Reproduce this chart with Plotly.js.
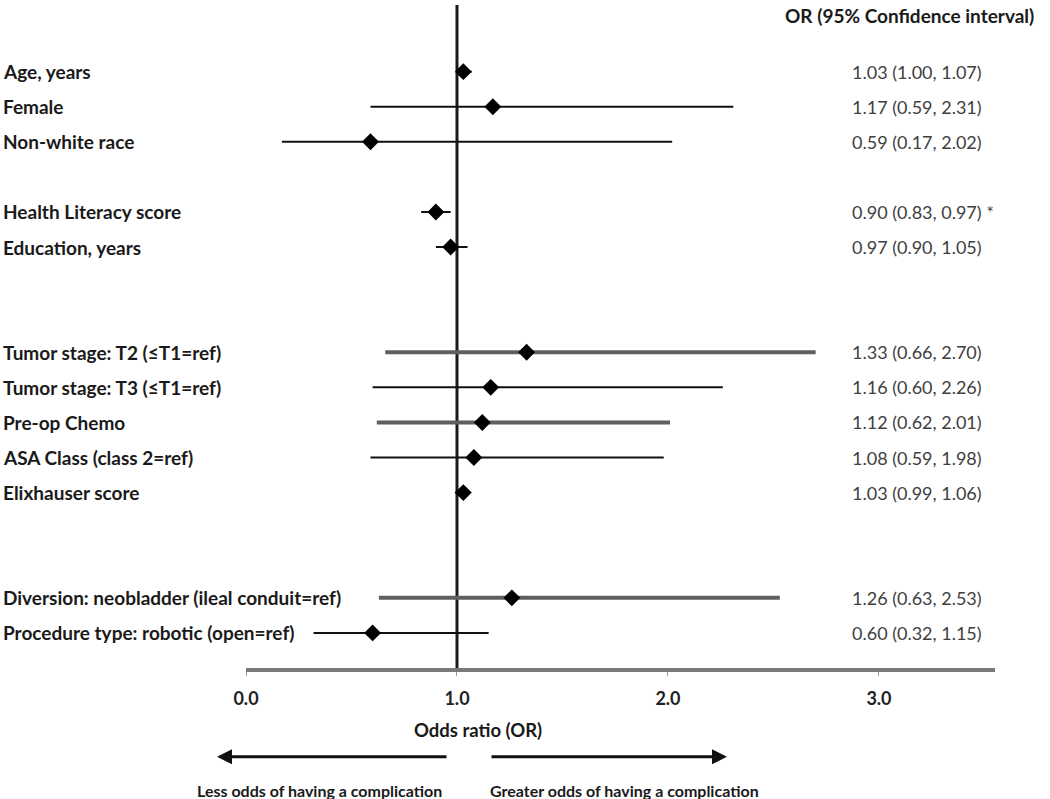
<!DOCTYPE html>
<html>
<head>
<meta charset="utf-8">
<script src="https://cdn.plot.ly/plotly-3.0.1.min.js"></script>
<style>html,body{margin:0;padding:0;background:#fff;}#chart{width:1050px;height:799px;}</style>
</head>
<body>
<div id="chart"></div>
<script>
// ---- data ----
const labels = ['Age, years','Female','Non-white race','Health Literacy score','Education, years',
  'Tumor stage: T2 (\u2264T1=ref)','Tumor stage: T3 (\u2264T1=ref)','Pre-op Chemo','ASA Class (class 2=ref)',
  'Elixhauser score','Diversion: neobladder (ileal conduit=ref)','Procedure type: robotic (open=ref)'];
const oddsRatio = [1.03, 1.17, 0.59, 0.90, 0.97, 1.33, 1.16, 1.12, 1.08, 1.03, 1.26, 0.60];
const ciLow     = [1.00, 0.59, 0.17, 0.83, 0.90, 0.66, 0.60, 0.62, 0.59, 0.99, 0.63, 0.32];
const ciHigh    = [1.07, 2.31, 2.02, 0.97, 1.05, 2.70, 2.26, 2.01, 1.98, 1.06, 2.53, 1.15];
const notes     = ['', '', '', ' *', '', '', '', '', '', '', '', ''];
const tickVals  = [0, 1, 2, 3];
const tickText  = ['0.0', '1.0', '2.0', '3.0'];

// ---- layout helpers (grouping of rows) ----
const groupSizes = [3, 2, 5, 2];
const blanksBefore = [0, 1, 2, 2];
const rowPos = [];
{ let p = 0, i = 0;
  groupSizes.forEach((n, g) => { p += blanksBefore[g]; for (let k = 0; k < n; k++) { rowPos[i++] = p++; } });
}
const thickRows = new Set(['Tumor stage: T2 (\u2264T1=ref)', 'Pre-op Chemo', 'Diversion: neobladder (ileal conduit=ref)']);

const FONT = 'Lato, "Open Sans", sans-serif';

function makeTrace(sel, color, thick) {
  const idx = labels.map((l, i) => i).filter(sel);
  return {
    type: 'scatter', mode: 'markers', hoverinfo: 'skip', showlegend: false,
    x: idx.map(i => oddsRatio[i]), y: idx.map(i => rowPos[i]),
    marker: {symbol: 'diamond', size: 13, color: '#000'},
    error_x: {type: 'data', symmetric: false,
      array: idx.map(i => ciHigh[i] - oddsRatio[i]),
      arrayminus: idx.map(i => oddsRatio[i] - ciLow[i]),
      width: 0, thickness: thick, color: color},
    cliponaxis: false
  };
}
const traces = [
  makeTrace(i => !thickRows.has(labels[i]), '#111', 2),
  makeTrace(i => thickRows.has(labels[i]), '#5f5f5f', 4)
];

const annotations = [];
labels.forEach((l, i) => {
  annotations.push({xref: 'paper', yref: 'y', x: -0.327, y: rowPos[i], xanchor: 'left', yanchor: 'middle',
    text: l, showarrow: false, font: {family: FONT, size: 19, color: '#1a1a1a', weight: 'bold'}});
  annotations.push({xref: 'x', yref: 'y', x: 2.863, y: rowPos[i], xanchor: 'left', yanchor: 'middle',
    text: oddsRatio[i].toFixed(2) + ' (' + ciLow[i].toFixed(2) + ', ' + ciHigh[i].toFixed(2) + ')' + notes[i],
    showarrow: false, font: {family: FONT, size: 18, color: '#404040'}});
});
annotations.push({xref: 'x', yref: 'paper', x: 2.545, y: 0.984, xanchor: 'left', yanchor: 'middle',
  text: 'OR (95% Confidence interval)', showarrow: false, font: {family: FONT, size: 19, color: '#1a1a1a', weight: 'bold'}});
annotations.push({xref: 'paper', yref: 'paper', x: (478 - 246) / 749, y: -0.0935, xanchor: 'center', yanchor: 'middle',
  text: 'Odds ratio (OR)', showarrow: false, font: {family: FONT, size: 18.5, color: '#1a1a1a', weight: 'bold'}});
annotations.push({xref: 'paper', yref: 'paper', x: (319 - 246) / 749, y: -0.1855, xanchor: 'center', yanchor: 'middle',
  text: 'Less odds of having a complication', showarrow: false, font: {family: FONT, size: 16, color: '#1a1a1a', weight: 'bold'}});
annotations.push({xref: 'paper', yref: 'paper', x: (624 - 246) / 749, y: -0.1855, xanchor: 'center', yanchor: 'middle',
  text: 'Greater odds of having a complication', showarrow: false, font: {family: FONT, size: 16, color: '#1a1a1a', weight: 'bold'}});
// arrows
annotations.push({xref: 'paper', yref: 'paper', x: (217 - 246) / 749, y: -0.134, ax: 231, ay: 0, text: '',
  showarrow: true, arrowhead: 2, arrowsize: 1, arrowwidth: 3, arrowcolor: '#111'});
annotations.push({xref: 'paper', yref: 'paper', x: (727 - 246) / 749, y: -0.134, ax: -237, ay: 0, text: '',
  showarrow: true, arrowhead: 2, arrowsize: 1, arrowwidth: 3, arrowcolor: '#111'});

const layout = {
  width: 1050, height: 799,
  margin: {l: 246, r: 55, t: 5, b: 131},
  paper_bgcolor: '#fff', plot_bgcolor: '#fff',
  xaxis: {range: [0, 3.55], tickvals: tickVals, ticktext: tickText, showgrid: false, zeroline: false,
    showline: true, linecolor: '#7a7a7a', linewidth: 4, ticks: 'outside', ticklen: 4, tickcolor: '#999', tickwidth: 1,
    ticklabelstandoff: 7,
    tickfont: {family: FONT, size: 18, color: '#222', weight: 'bold'}, fixedrange: true},
  yaxis: {range: [17, -1.9], showgrid: false, zeroline: false, showline: false, showticklabels: false, ticks: '', fixedrange: true},
  shapes: [{type: 'line', xref: 'x', yref: 'y', x0: 1, x1: 1, y0: -1.9, y1: 17.15, layer: 'below',
    line: {color: '#1a1a1a', width: 3}}],
  annotations: annotations,
  showlegend: false
};

Plotly.newPlot('chart', traces, layout, {displayModeBar: false, staticPlot: true});
</script>
</body>
</html>
